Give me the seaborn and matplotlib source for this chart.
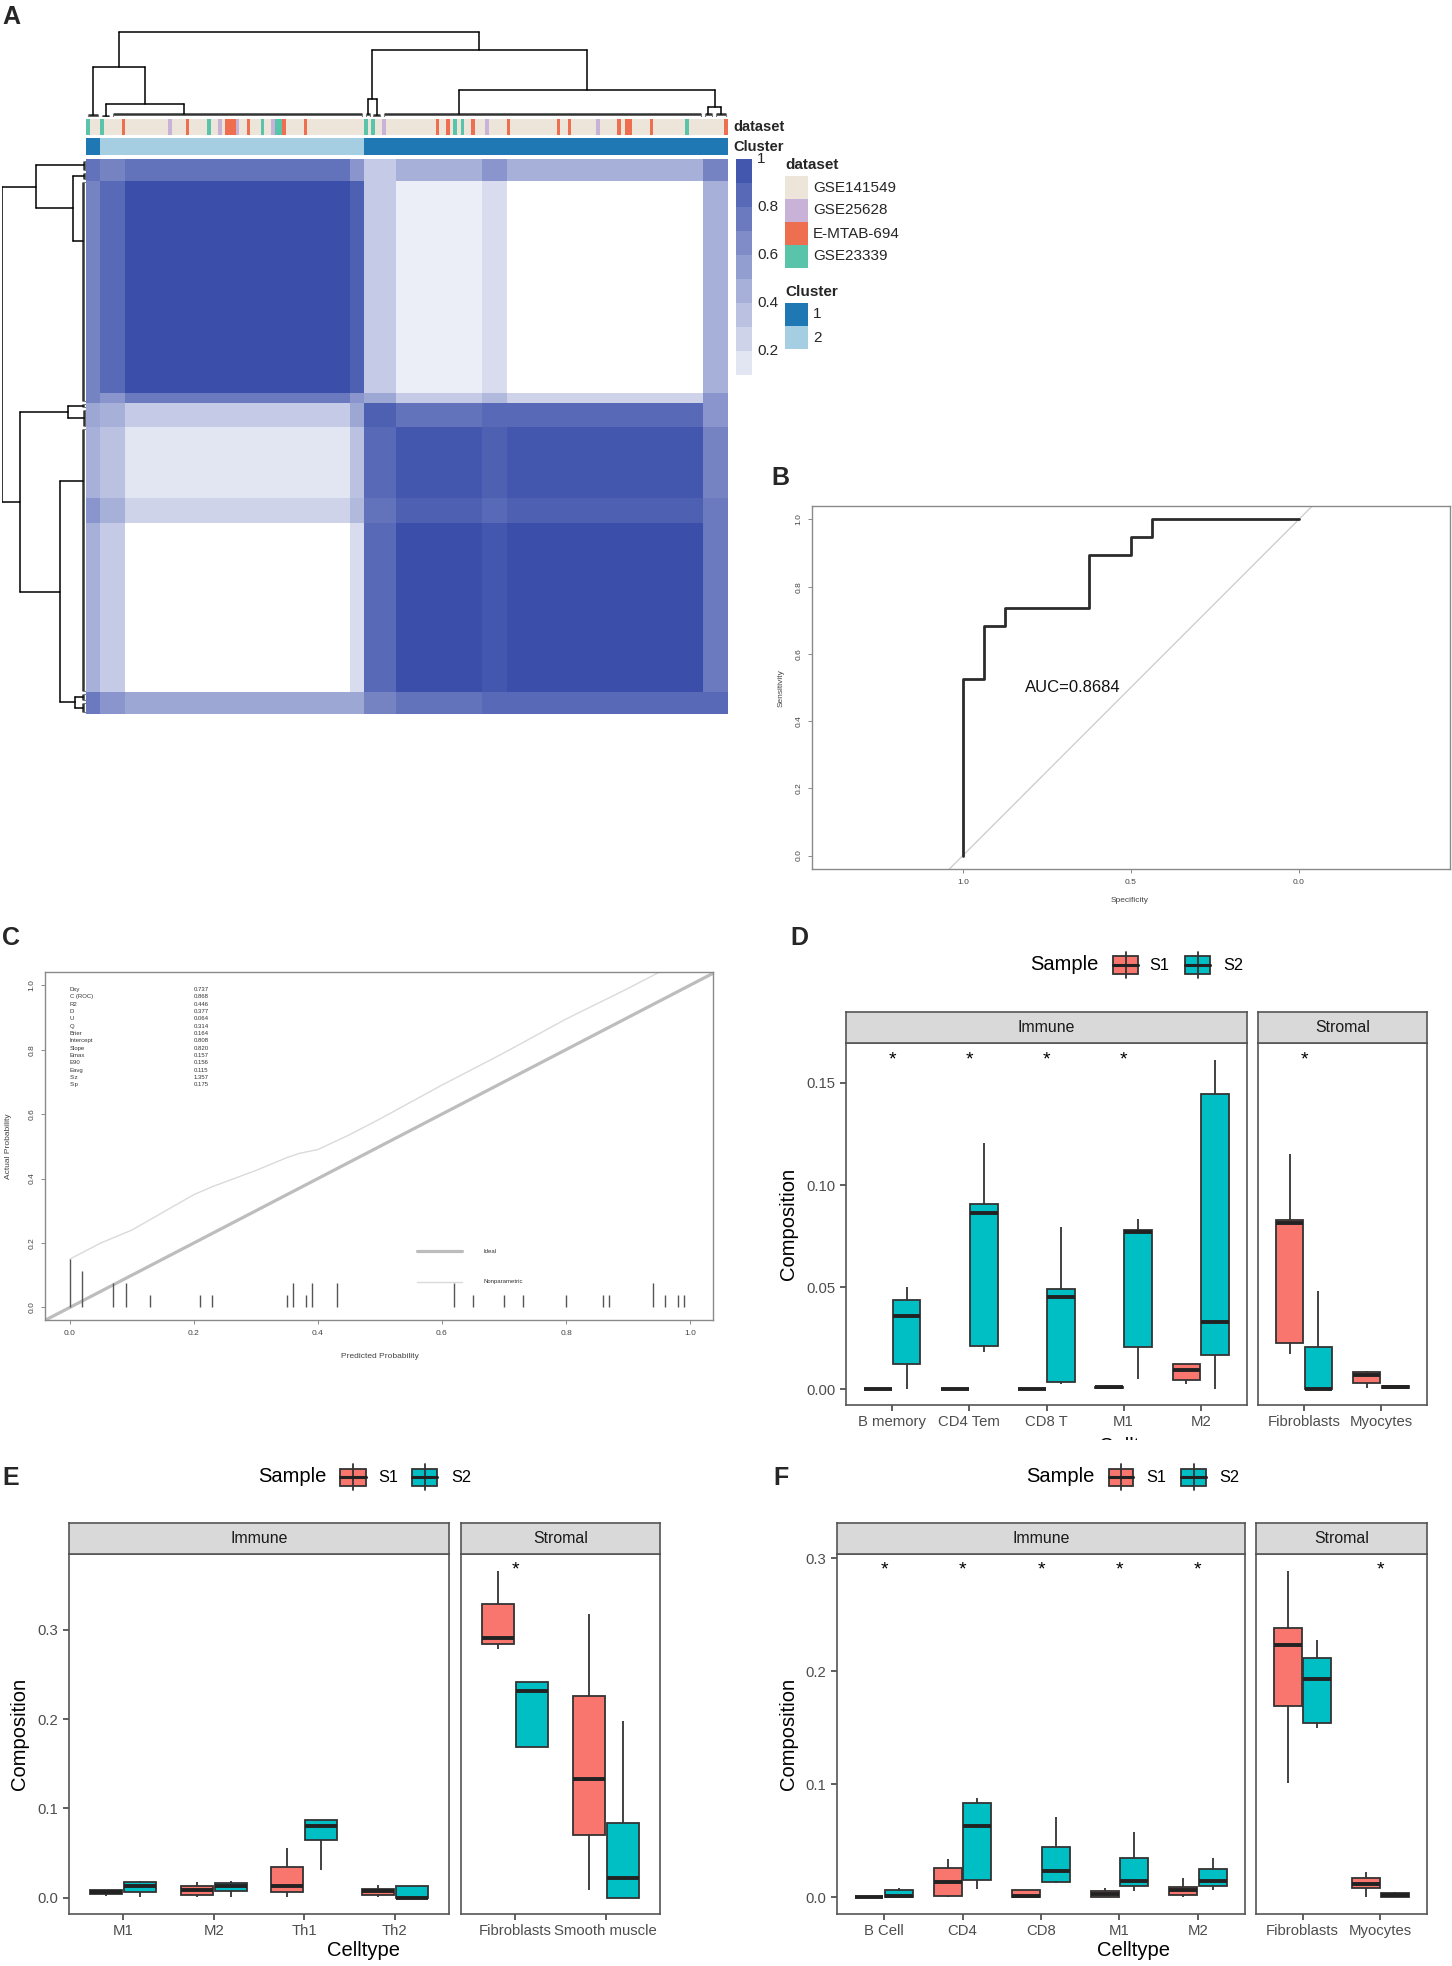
import numpy as np
import pandas as pd
import matplotlib
matplotlib.use("Agg")
import matplotlib.pyplot as plt
from matplotlib.colors import ListedColormap, LinearSegmentedColormap
from matplotlib.patches import Rectangle
from matplotlib.lines import Line2D
import seaborn as sns

# ------------------------------------------------------------------ data
# Panel A : consensus matrix (block structure)
n_samples = 180
row_sizes = [7, 69, 3, 8, 23, 8, 55, 7]
col_sizes = [4, 7, 63, 4, 9, 24, 7, 55, 7]
block_vals = [
    [0.80, 0.70, 0.80, 0.60, 0.30, 0.45, 0.60, 0.45, 0.70],
    [0.70, 0.85, 1.00, 0.90, 0.30, 0.10, 0.20, 0.00, 0.45],
    [0.70, 0.60, 0.75, 0.60, 0.50, 0.30, 0.40, 0.25, 0.60],
    [0.50, 0.45, 0.30, 0.50, 0.90, 0.80, 0.85, 0.85, 0.60],
    [0.45, 0.35, 0.15, 0.35, 0.85, 0.95, 0.90, 0.95, 0.70],
    [0.60, 0.45, 0.25, 0.40, 0.80, 0.90, 0.85, 0.90, 0.75],
    [0.45, 0.30, 0.00, 0.20, 0.85, 1.00, 0.95, 1.00, 0.75],
    [0.75, 0.60, 0.50, 0.50, 0.70, 0.80, 0.85, 0.85, 0.85],
]
dataset_names = ["GSE141549", "GSE25628", "E-MTAB-694", "GSE23339"]
dataset_colors = ["#EDE4DA", "#C8B2D7", "#EE6E50", "#5AC4AA"]
gse25628_cols = [23, 37, 42, 52, 83, 112, 143]
emtab694_cols = [10, 28, 39, 40, 41, 45, 55, 61, 98, 101, 108, 118, 132, 135, 149, 151, 152, 158, 179]
gse23339_cols = [0, 4, 34, 49, 53, 54, 78, 80, 103, 105, 168]
cluster_names = ["1", "2"]
cluster_colors = ["#1F78B4", "#A6CEE3"]
cluster2_range = (4, 78)
# dendrograms: ("L", start, end, height, attach) / ("N", height, left, right)
col_tree = ("N", 1.00,
            ("N", 0.59, ("L", 0, 4, 0.02, None),
             ("N", 0.15, ("L", 4, 7, 0.01, None), ("L", 7, 78, 0.03, 27))),
            ("N", 0.78, ("N", 0.21, ("L", 78, 80, 0.04, None), ("L", 80, 83, 0.02, None)),
             ("N", 0.32, ("L", 83, 173, 0.03, 104),
              ("N", 0.12, ("L", 173, 176, 0.03, None), ("L", 176, 180, 0.04, None)))))
row_tree = ("N", 1.00,
            ("N", 0.59, ("L", 0, 4, 0.02, None),
             ("N", 0.15, ("L", 4, 7, 0.02, None), ("L", 7, 79, 0.03, 26))),
            ("N", 0.79, ("N", 0.21, ("L", 79, 81, 0.04, None), ("L", 81, 87, 0.02, None)),
             ("N", 0.31, ("L", 87, 173, 0.03, 104),
              ("N", 0.13, ("L", 173, 176, 0.03, None), ("L", 176, 180, 0.04, None)))))

# Panel B : ROC
roc_spec = [1.0, 1.0, 0.9375, 0.875, 0.625, 0.5, 0.4375, 0.0]
roc_sens = [0.0, 0.5263, 0.6842, 0.7368, 0.8947, 0.9474, 1.0, 1.0]
auc_text = "AUC=0.8684"

# Panel C : calibration
cal_x = [0.0, 0.05, 0.1, 0.15, 0.2, 0.23, 0.3, 0.35, 0.37, 0.4, 0.45, 0.5, 0.6, 0.7, 0.8, 0.9, 0.95]
cal_y = [0.15, 0.20, 0.24, 0.295, 0.35, 0.375, 0.425, 0.465, 0.478, 0.49, 0.535, 0.585, 0.69, 0.79, 0.895, 0.99, 1.04]
spike_x = [0.0, 0.02, 0.07, 0.09, 0.13, 0.21, 0.23, 0.35, 0.36, 0.38, 0.39, 0.43,
           0.62, 0.65, 0.70, 0.73, 0.80, 0.86, 0.87, 0.94, 0.96, 0.98, 0.99]
spike_n = [4, 3, 2, 2, 1, 1, 1, 1, 2, 1, 2, 2, 2, 1, 1, 1, 1, 1, 1, 2, 1, 1, 1]
stat_names = ["Dxy", "C (ROC)", "R2", "D", "U", "Q", "Brier", "Intercept", "Slope",
              "Emax", "E90", "Eavg", "S:z", "S:p"]
stat_values = ["0.737", "0.868", "0.446", "0.377", "0.064", "0.314", "0.164", "0.808",
               "0.820", "0.157", "0.156", "0.115", "1.357", "0.175"]

# Panels D/E/F : box summaries [min, q1, median, q3, max]
D_cells = ["B memory", "CD4 Tem", "CD8 T", "M1", "M2", "Fibroblasts", "Myocytes"]
D_facet = ["Immune"] * 5 + ["Stromal"] * 2
D_S1 = [[0, 0, 0, 0, 0], [0, 0, 0, 0, 0], [0, 0, 0, 0, 0],
        [0.0, 0.0005, 0.0008, 0.0012, 0.0015], [0.0024, 0.0046, 0.0095, 0.0122, 0.0122],
        [0.0173, 0.0228, 0.0812, 0.0828, 0.1154], [0.0005, 0.0029, 0.0070, 0.0082, 0.0091]]
D_S2 = [[0.0, 0.0124, 0.0360, 0.0437, 0.0502], [0.0181, 0.0212, 0.0861, 0.0908, 0.1207],
        [0.0026, 0.0036, 0.0453, 0.0491, 0.0794], [0.0049, 0.0205, 0.0771, 0.0779, 0.0835],
        [0.0, 0.0166, 0.0329, 0.1448, 0.1614], [0.0, 0.0, 0.0, 0.0205, 0.0483],
        [0.0, 0.0003, 0.0010, 0.0015, 0.0015]]
D_stars = ["B memory", "CD4 Tem", "CD8 T", "M1", "Fibroblasts"]

E_cells = ["M1", "M2", "Th1", "Th2", "Fibroblasts", "Smooth muscle"]
E_facet = ["Immune"] * 4 + ["Stromal"] * 2
E_S1 = [[0.0026, 0.0048, 0.0065, 0.0093, 0.0093], [0.0007, 0.0030, 0.0093, 0.0130, 0.0179],
        [0.0007, 0.0067, 0.0138, 0.0347, 0.0559], [0.0010, 0.0030, 0.0082, 0.0104, 0.0142],
        [0.2788, 0.2844, 0.2907, 0.3287, 0.3660], [0.0093, 0.0708, 0.1331, 0.2262, 0.3179]]
E_S2 = [[0.0007, 0.0067, 0.0130, 0.0175, 0.0186], [0.0007, 0.0075, 0.0130, 0.0168, 0.0194],
        [0.0317, 0.0645, 0.0809, 0.0876, 0.0876], [0.0, 0.0, 0.0003, 0.0128, 0.0128],
        [0.1688, 0.1688, 0.2311, 0.2415, 0.2415], [0.0, 0.0, 0.0224, 0.0839, 0.1983]]
E_stars = ["Fibroblasts"]

F_cells = ["B Cell", "CD4", "CD8", "M1", "M2", "Fibroblasts", "Myocytes"]
F_facet = ["Immune"] * 5 + ["Stromal"] * 2
F_S1 = [[0, 0, 0, 0.0002, 0.0002], [0.0003, 0.0015, 0.0133, 0.0262, 0.0339],
        [0.0, 0.0, 0.0009, 0.0062, 0.0068], [0.0, 0.0003, 0.0029, 0.0053, 0.0083],
        [0.0003, 0.0018, 0.0068, 0.0091, 0.0171], [0.1011, 0.1689, 0.2234, 0.2381, 0.2888],
        [0.0, 0.0083, 0.0121, 0.0168, 0.0221]]
F_S2 = [[0.0, 0.0, 0.0009, 0.0068, 0.0083], [0.0077, 0.0156, 0.0634, 0.0834, 0.0878],
        [0.0127, 0.0139, 0.0236, 0.0448, 0.0707], [0.0053, 0.0097, 0.0141, 0.0348, 0.0578],
        [0.0062, 0.0097, 0.0141, 0.0251, 0.0348], [0.1497, 0.1547, 0.1930, 0.2116, 0.2278],
        [0.0003, 0.0003, 0.0024, 0.0038, 0.0044]]
F_stars = ["B Cell", "CD4", "CD8", "M1", "M2", "Myocytes"]

sample_palette = {"S1": "#F8766D", "S2": "#00BFC4"}

# ------------------------------------------------------------------ setup
sns.set_theme(style="ticks")
plt.rcParams['font.family'] = ['Liberation Sans', 'DejaVu Sans']

W, H = 1452, 1966
fig = plt.figure(figsize=(W / 100, H / 100), dpi=100)
fig.patch.set_facecolor("white")


def rect(x0, y0, x1, y1):
    return [x0 / W, 1 - y1 / H, (x1 - x0) / W, (y1 - y0) / H]


def fx(x):
    return x / W


def fy(y):
    return 1 - y / H


def letter(x, y, s):
    fig.text(fx(x), fy(y), s, ha="left", va="top", fontsize=18, fontweight="bold")


# ------------------------------------------------------------------ Panel A
hm_x0, hm_x1, hm_y0, hm_y1 = 86, 728, 159, 714
mat = np.repeat(np.repeat(np.array(block_vals), row_sizes, axis=0), col_sizes, axis=1)
cc_cmap = LinearSegmentedColormap.from_list("cc", ["#FFFFFF", "#3B4FAA"])
axH = fig.add_axes(rect(hm_x0, hm_y0, hm_x1, hm_y1))
sns.heatmap(mat, cmap=cc_cmap, vmin=0, vmax=1, cbar=False, xticklabels=False,
            yticklabels=False, ax=axH)

# annotation bars
ds_codes = np.zeros(n_samples, dtype=int)
ds_codes[gse25628_cols] = 1
ds_codes[emtab694_cols] = 2
ds_codes[gse23339_cols] = 3
cl_codes = np.zeros(n_samples, dtype=int)
cl_codes[cluster2_range[0]:cluster2_range[1]] = 1
axDS = fig.add_axes(rect(hm_x0, 119, hm_x1, 135))
sns.heatmap(ds_codes[None, :], cmap=ListedColormap(dataset_colors), vmin=-0.5, vmax=3.5,
            cbar=False, xticklabels=False, yticklabels=False, ax=axDS)
axCL = fig.add_axes(rect(hm_x0, 138, hm_x1, 155))
sns.heatmap(cl_codes[None, :], cmap=ListedColormap(cluster_colors), vmin=-0.5, vmax=1.5,
            cbar=False, xticklabels=False, yticklabels=False, ax=axCL)
fig.text(fx(733), fy(127), "dataset", ha="left", va="center", fontsize=10.5, fontweight="bold")
fig.text(fx(733), fy(147), "Cluster", ha="left", va="center", fontsize=10.5, fontweight="bold")


def seg(ax, pos, hgt, orient, **kw):
    if orient == "top":
        ax.plot(pos, hgt, **kw)
    else:
        ax.plot(hgt, pos, **kw)


def draw_tree(ax, node, orient):
    if node[0] == "L":
        _, s, e, h, att = node
        pos = (s + e) / 2 if att is None else att + 0.5
        seg(ax, [s + 0.5, e - 0.5], [h, h], orient, color="#333333", lw=1.8, solid_capstyle="butt")
        seg(ax, [s + 0.5, s + 0.5], [0, h], orient, color="#777777", lw=0.8)
        seg(ax, [e - 0.5, e - 0.5], [0, h], orient, color="#777777", lw=0.8)
        return pos, h
    _, h, left, right = node
    lp, lh = draw_tree(ax, left, orient)
    rp, rh = draw_tree(ax, right, orient)
    seg(ax, [lp, lp], [lh, h], orient, color="black", lw=1.1)
    seg(ax, [rp, rp], [rh, h], orient, color="black", lw=1.1)
    seg(ax, [lp, rp], [h, h], orient, color="black", lw=1.1)
    return (lp + rp) / 2, h


axTD = fig.add_axes(rect(hm_x0, 30, hm_x1, 117))
draw_tree(axTD, col_tree, "top")
axTD.set_xlim(0, n_samples)
axTD.set_ylim(0, 1.02)
axTD.axis("off")

axLD = fig.add_axes(rect(2, hm_y0, hm_x0, hm_y1))
draw_tree(axLD, row_tree, "left")
axLD.set_ylim(n_samples, 0)
axLD.set_xlim(1.0, 0)
axLD.axis("off")

# colour legend
cb_levels = np.arange(0.95, 0.1, -0.1)
axCB = fig.add_axes(rect(736, 159, 752, 375))
sns.heatmap(cb_levels[:, None], cmap=cc_cmap, vmin=0, vmax=1, cbar=False,
            xticklabels=False, yticklabels=False, ax=axCB)
for v in [1.0, 0.8, 0.6, 0.4, 0.2]:
    yy = 159 + (1.0 - v) / 0.9 * (375 - 159)
    lab = "1" if v == 1.0 else f"{v:.1f}"
    fig.text(fx(757), fy(yy), lab, ha="left", va="center", fontsize=11)

# discrete legends
fig.text(fx(785), fy(165), "dataset", ha="left", va="center", fontsize=11, fontweight="bold")
for i, (nm, col) in enumerate(zip(dataset_names, dataset_colors)):
    y0 = 176 + i * 23
    fig.add_artist(Rectangle((fx(785), fy(y0 + 23)), 23 / W, 23 / H, transform=fig.transFigure,
                             facecolor=col, edgecolor="none"))
    fig.text(fx(813), fy(y0 + 11.5), nm, ha="left", va="center", fontsize=11)
fig.text(fx(785), fy(292), "Cluster", ha="left", va="center", fontsize=11, fontweight="bold")
for i, (nm, col) in enumerate(zip(cluster_names, cluster_colors)):
    y0 = 303 + i * 23
    fig.add_artist(Rectangle((fx(785), fy(y0 + 23)), 23 / W, 23 / H, transform=fig.transFigure,
                             facecolor=col, edgecolor="none"))
    fig.text(fx(813), fy(y0 + 11.5), nm, ha="left", va="center", fontsize=11)

letter(2, 5, "A")


# ------------------------------------------------------------------ R-style helper
def r_style(ax):
    for sp in ax.spines.values():
        sp.set_visible(True)
        sp.set_color("#8A8A8A")
        sp.set_linewidth(1.0)
    ax.set_facecolor("white")
    ax.tick_params(axis="both", length=3, width=0.6, color="#777777", labelsize=6,
                   labelcolor="#444444", pad=4, direction="out")


# ------------------------------------------------------------------ Panel B
axB = fig.add_axes(rect(812, 506, 1450, 869))
axB.axline((1.0, 0.0), (0.0, 1.0), color="#CFCFCF", lw=1.0)
sns.lineplot(x=roc_spec, y=roc_sens, sort=False, estimator=None, drawstyle="steps-post",
             color="#2B2B2B", lw=2.0, ax=axB)
axB.set_xlim(1.449, -0.45)
axB.set_ylim(-0.04, 1.04)
axB.set_xticks([1.0, 0.5, 0.0])
axB.set_xticklabels(["1.0", "0.5", "0.0"])
axB.set_yticks([0.0, 0.2, 0.4, 0.6, 0.8, 1.0])
axB.set_yticklabels(["0.0", "0.2", "0.4", "0.6", "0.8", "1.0"], rotation=90, va="center")
r_style(axB)
axB.text(0.816, 0.5, auc_text, ha="left", va="center", fontsize=12, color="#111111")
fig.text(fx(781), fy(688), "Sensitivity", rotation=90, ha="center", va="center", fontsize=6, color="#444444")
fig.text(fx(1130), fy(900), "Specificity", ha="center", va="center", fontsize=6, color="#444444")
letter(771, 466, "B")

# ------------------------------------------------------------------ Panel C
axC = fig.add_axes(rect(45, 972, 713, 1320))
axC.axline((0, 0), (1, 1), color="#BDBDBD", lw=2.3)
sns.lineplot(x=cal_x, y=cal_y, sort=False, estimator=None, color="#DADADA", lw=1.0, ax=axC)
axC.vlines(spike_x, 0, np.array(spike_n) * 0.0372, color="#555555", lw=1.0)
axC.set_xlim(-0.04, 1.037)
axC.set_ylim(-0.039, 1.041)
ticks = [0.0, 0.2, 0.4, 0.6, 0.8, 1.0]
axC.set_xticks(ticks)
axC.set_xticklabels([f"{t:.1f}" for t in ticks])
axC.set_yticks(ticks)
axC.set_yticklabels([f"{t:.1f}" for t in ticks], rotation=90, va="center")
r_style(axC)
for i, (nm, val) in enumerate(zip(stat_names, stat_values)):
    yy = 0.987 - i * 0.0228
    axC.text(0.0, yy, nm, ha="left", va="center", fontsize=4.3, color="#333333")
    axC.text(0.2, yy, val, ha="left", va="center", fontsize=4.3, color="#333333")
axC.plot([0.559, 0.633], [0.175, 0.175], color="#BDBDBD", lw=2.3)
axC.text(0.667, 0.175, "Ideal", ha="left", va="center", fontsize=4.3, color="#333333")
axC.plot([0.559, 0.633], [0.08, 0.08], color="#DADADA", lw=1.0)
axC.text(0.667, 0.08, "Nonparametric", ha="left", va="center", fontsize=4.3, color="#333333")
fig.text(fx(9), fy(1146), "Actual Probability", rotation=90, ha="center", va="center", fontsize=6, color="#444444")
fig.text(fx(380), fy(1357), "Predicted Probability", ha="center", va="center", fontsize=6, color="#444444")
letter(2, 926, "C")


# ------------------------------------------------------------------ Panels D/E/F
def make_long(cells, s1, s2):
    rows = []
    for c, a, b in zip(cells, s1, s2):
        for v in a:
            rows.append((c, "S1", v))
        for v in b:
            rows.append((c, "S2", v))
    return pd.DataFrame(rows, columns=["Celltype", "Sample", "Composition"])


def sample_legend(text_cx, cy, glyphs):
    fig.text(fx(text_cx), fy(cy), "Sample", ha="center", va="center", fontsize=14.5, color="black")
    for gx0, gx1, lx, lab in glyphs:
        col = sample_palette[lab]
        xm = (gx0 + gx1) / 2
        fig.add_artist(Line2D([fx(xm), fx(xm)], [fy(cy - 13), fy(cy + 13)],
                              transform=fig.transFigure, color="#333333", lw=1.3))
        fig.add_artist(Rectangle((fx(gx0), fy(cy + 8.5)), (gx1 - gx0) / W, 17 / H,
                                 transform=fig.transFigure, facecolor=col,
                                 edgecolor="#333333", lw=1.3))
        fig.add_artist(Line2D([fx(gx0), fx(gx1)], [fy(cy), fy(cy)], transform=fig.transFigure,
                              color="#222222", lw=2.2))
        fig.text(fx(lx), fy(cy), lab, ha="center", va="center", fontsize=11.8, color="black")


def facet_plot(cells, facets, s1, s2, stars, star_y, xspans, strip_y0, py0, py1,
               ylim, yticks, yticklabels, ylab_x, xlab_cx, xlab_y):
    df = make_long(cells, s1, s2)
    groups = []
    for f in facets:
        if f not in groups:
            groups.append(f)
    for gi, gname in enumerate(groups):
        cats = [c for c, f in zip(cells, facets) if f == gname]
        x0, x1 = xspans[gi]
        ax = fig.add_axes(rect(x0, py0, x1, py1))
        sub = df[df["Celltype"].isin(cats)]
        sns.boxplot(data=sub, x="Celltype", y="Composition", hue="Sample", order=cats,
                    hue_order=["S1", "S2"], palette=sample_palette, saturation=1,
                    width=0.75, gap=0.05, whis=(0, 100), linewidth=1.3,
                    linecolor="#333333", showcaps=False, legend=False,
                    medianprops=dict(color="#222222", linewidth=2.8), ax=ax)
        ax.set_xlim(-0.6, len(cats) - 0.4)
        ax.set_ylim(*ylim)
        ax.set_xlabel("")
        ax.set_ylabel("")
        ax.set_facecolor("white")
        for sp in ax.spines.values():
            sp.set_visible(True)
            sp.set_color("#555555")
            sp.set_linewidth(1.2)
        ax.tick_params(axis="x", bottom=True, length=4.5, width=1.1, color="#333333",
                       labelsize=10.7, labelcolor="#4D4D4D", pad=3)
        if gi == 0:
            ax.set_yticks(yticks)
            ax.set_yticklabels(yticklabels)
            ax.tick_params(axis="y", left=True, length=4.5, width=1.1, color="#333333",
                           labelsize=10.7, labelcolor="#4D4D4D", pad=3)
        else:
            ax.set_yticks(yticks)
            ax.tick_params(axis="y", left=False, labelleft=False)
        for c in stars:
            if c in cats:
                ax.text(cats.index(c), star_y, "*", ha="center", va="baseline",
                        fontsize=14, color="black")
        sax = fig.add_axes(rect(x0, strip_y0, x1, py0))
        sax.set_facecolor("#D9D9D9")
        sax.set_xticks([])
        sax.set_yticks([])
        for sp in sax.spines.values():
            sp.set_visible(True)
            sp.set_color("#555555")
            sp.set_linewidth(1.2)
        sax.text(0.5, 0.5, gname, ha="center", va="center", fontsize=11.4,
                 color="#1A1A1A", transform=sax.transAxes)
    fig.text(fx(ylab_x), fy((py0 + py1) / 2), "Composition", rotation=90, ha="center",
             va="center", fontsize=14.5, color="black")
    fig.text(fx(xlab_cx), fy(xlab_y), "Celltype", ha="center", va="center",
             fontsize=14.5, color="black")


# D
facet_plot(D_cells, D_facet, D_S1, D_S2, D_stars, 0.1593,
           [(846, 1247), (1258, 1427)], 1012, 1043, 1405,
           (-0.0078, 0.1696), [0, 0.05, 0.10, 0.15], ["0.00", "0.05", "0.10", "0.15"],
           788, 1135, 1446)
sample_legend(1064, 965, [(1113, 1138, 1159, "S1"), (1185, 1210, 1233, "S2")])
letter(790, 926, "D")
# cover the clipped lower part of D's x title
fig.add_artist(Rectangle((fx(760), fy(1460)), (W - 760) / W, 20 / H, transform=fig.transFigure,
                         facecolor="white", edgecolor="none", zorder=20))

# E
facet_plot(E_cells, E_facet, E_S1, E_S2, E_stars, 0.3615,
           [(69, 449), (461, 660)], 1523, 1554, 1914,
           (-0.018, 0.3846), [0, 0.1, 0.2, 0.3], ["0.0", "0.1", "0.2", "0.3"],
           20, 364, 1950)
sample_legend(292, 1477, [(340, 366, 388, "S1"), (412, 437, 461, "S2")])
letter(2, 1466, "E")

# F
facet_plot(F_cells, F_facet, F_S1, F_S2, F_stars, 0.2853,
           [(837, 1245), (1256, 1427)], 1523, 1554, 1914,
           (-0.0147, 0.3038), [0, 0.1, 0.2, 0.3], ["0.0", "0.1", "0.2", "0.3"],
           788, 1133, 1950)
sample_legend(1060, 1477, [(1109, 1133, 1156, "S1"), (1181, 1206, 1229, "S2")])
letter(773, 1466, "F")

fig.savefig("out.png", dpi=100, facecolor="white")
